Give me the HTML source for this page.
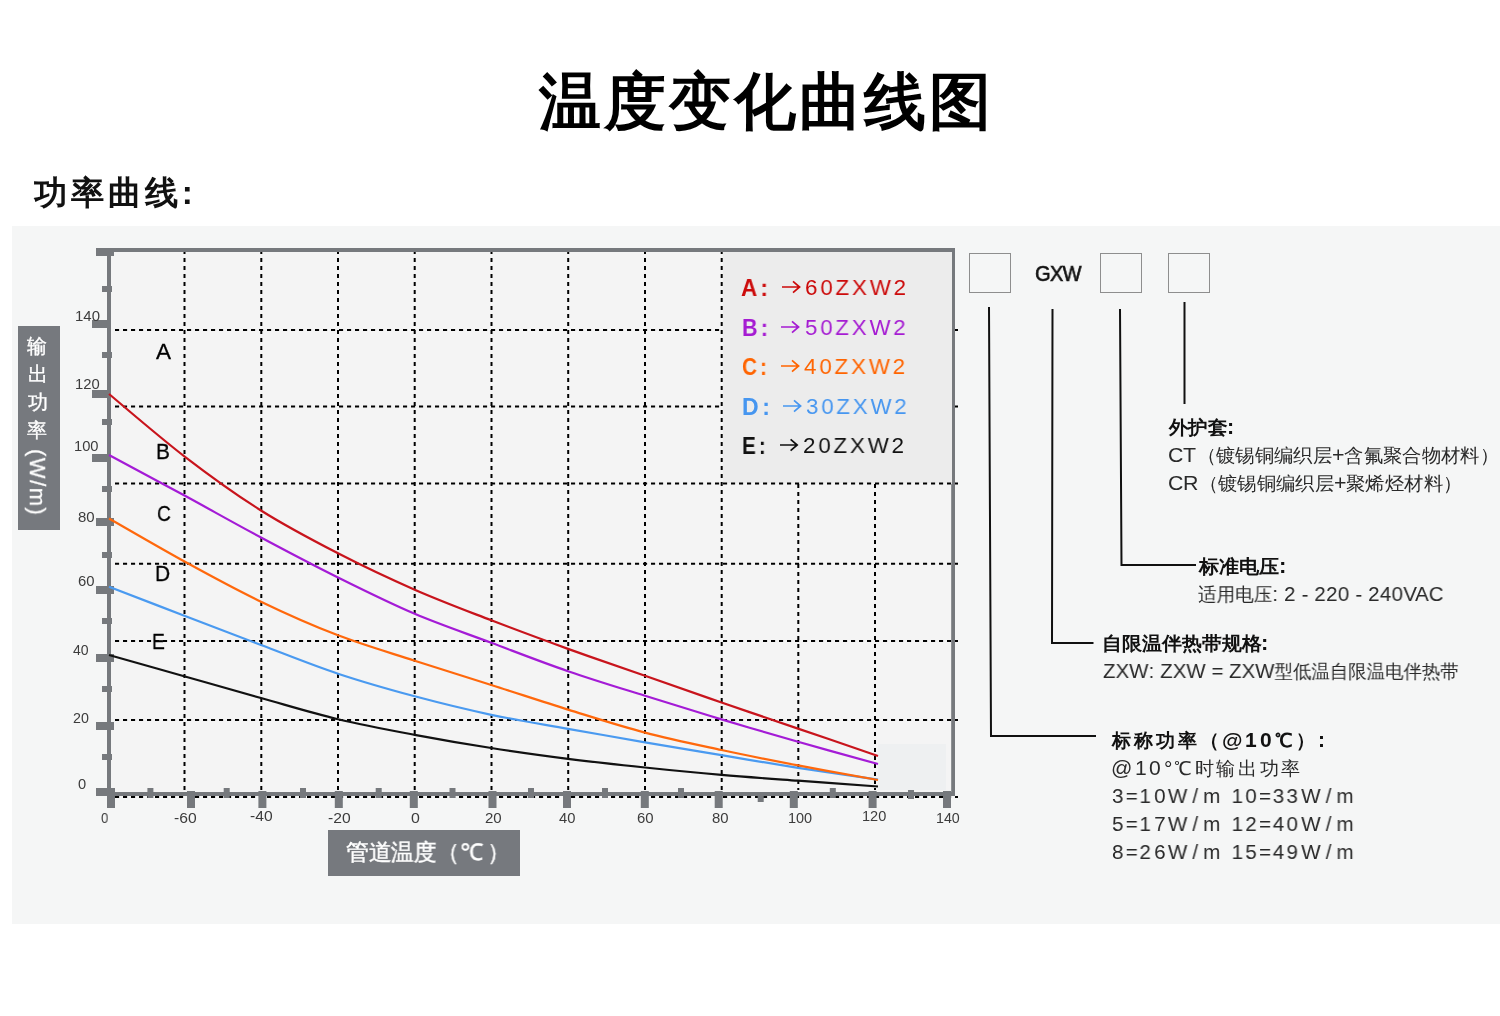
<!DOCTYPE html>
<html><head><meta charset="utf-8">
<style>
@font-face{font-family:"LS2";src:local("Liberation Sans"),local("LiberationSans");size-adjust:108%;unicode-range:U+0020-00FF;}
@font-face{font-family:"LS2";src:local("Liberation Sans Bold"),local("LiberationSans-Bold");font-weight:bold;size-adjust:108%;unicode-range:U+0020-00FF;}
html,body{margin:0;padding:0;}
body{width:1500px;height:1016px;background:#fff;position:relative;overflow:hidden;font-family:"Liberation Sans",sans-serif;}
.a{position:absolute;white-space:nowrap;line-height:1;transform-origin:0 0;will-change:transform;}
#panel{position:absolute;left:12px;top:226px;width:1488px;height:698px;background:#f5f6f6;}
#ybox{position:absolute;left:18px;top:326px;width:42px;height:204px;background:#76797e;}
#xbox{position:absolute;left:328px;top:830px;width:192px;height:46px;background:#76797e;}
#yrot{position:absolute;white-space:nowrap;line-height:1;left:47.5px;top:448.5px;font-size:22.5px;color:#fff;letter-spacing:1.6px;transform:rotate(90deg) scale(0.975,1);transform-origin:0 0;will-change:transform;-webkit-text-stroke:0.3px #fff;}
</style></head><body>
<div id="panel"></div>
<svg width="1500" height="1016" viewBox="0 0 1500 1016" style="position:absolute;left:0;top:0">
<rect x="109" y="250" width="844" height="544" fill="#f4f4f4"/>
<rect x="723" y="251" width="229" height="232" fill="#ececec"/>
<rect x="878" y="744" width="68" height="46" fill="#eef0f1"/>
<line x1="184.5" y1="250" x2="184.5" y2="790" stroke="#000" stroke-width="2" stroke-dasharray="4.1 3.9"/>
<line x1="261.3" y1="250" x2="261.3" y2="790" stroke="#000" stroke-width="2" stroke-dasharray="4.1 3.9"/>
<line x1="338" y1="250" x2="338" y2="790" stroke="#000" stroke-width="2" stroke-dasharray="4.1 3.9"/>
<line x1="414.7" y1="250" x2="414.7" y2="790" stroke="#000" stroke-width="2" stroke-dasharray="4.1 3.9"/>
<line x1="491.5" y1="250" x2="491.5" y2="790" stroke="#000" stroke-width="2" stroke-dasharray="4.1 3.9"/>
<line x1="568.2" y1="250" x2="568.2" y2="790" stroke="#000" stroke-width="2" stroke-dasharray="4.1 3.9"/>
<line x1="645" y1="250" x2="645" y2="790" stroke="#000" stroke-width="2" stroke-dasharray="4.1 3.9"/>
<line x1="721.7" y1="250" x2="721.7" y2="790" stroke="#000" stroke-width="2" stroke-dasharray="4.1 3.9"/>
<line x1="798.3" y1="484" x2="798.3" y2="790" stroke="#000" stroke-width="2" stroke-dasharray="4.1 3.9"/>
<line x1="875" y1="484" x2="875" y2="790" stroke="#000" stroke-width="2" stroke-dasharray="4.1 3.9"/>
<line x1="115" y1="330" x2="723" y2="330" stroke="#000" stroke-width="2" stroke-dasharray="4.1 3.9"/>
<line x1="955" y1="330" x2="958" y2="330" stroke="#000" stroke-width="2"/>
<line x1="115" y1="406.5" x2="723" y2="406.5" stroke="#000" stroke-width="2" stroke-dasharray="4.1 3.9"/>
<line x1="955" y1="406.5" x2="958" y2="406.5" stroke="#000" stroke-width="2"/>
<line x1="115" y1="483.5" x2="958" y2="483.5" stroke="#000" stroke-width="2" stroke-dasharray="4.1 3.9"/>
<line x1="115" y1="563.8" x2="958" y2="563.8" stroke="#000" stroke-width="2" stroke-dasharray="4.1 3.9"/>
<line x1="115" y1="641" x2="958" y2="641" stroke="#000" stroke-width="2" stroke-dasharray="4.1 3.9"/>
<line x1="115" y1="720" x2="958" y2="720" stroke="#000" stroke-width="2" stroke-dasharray="4.1 3.9"/>
<line x1="115" y1="796.9" x2="958" y2="796.9" stroke="#000" stroke-width="2" stroke-dasharray="4.1 3.9"/>
<rect x="96" y="248" width="859" height="4" fill="#76797d"/>
<rect x="96" y="248" width="18" height="8" fill="#76797d"/>
<rect x="107" y="248" width="4" height="548" fill="#76797d"/>
<rect x="952" y="248" width="3" height="236" fill="#76797d"/>
<rect x="951.2" y="484" width="3.8" height="312" fill="#76797d"/>
<rect x="96" y="792" width="859" height="4" fill="#76797d"/>
<rect x="96" y="788" width="18" height="8" fill="#76797d"/>
<rect x="96" y="722" width="18" height="8" fill="#76797d"/>
<rect x="96" y="654" width="18" height="8" fill="#76797d"/>
<rect x="96" y="586" width="18" height="8" fill="#76797d"/>
<rect x="96" y="518" width="18" height="8" fill="#76797d"/>
<rect x="92" y="454" width="19" height="8" fill="#76797d"/>
<rect x="92" y="390" width="19" height="8" fill="#76797d"/>
<rect x="92" y="320" width="19" height="8" fill="#76797d"/>
<rect x="102" y="754" width="10" height="6" fill="#76797d"/>
<rect x="102" y="686" width="10" height="6" fill="#76797d"/>
<rect x="102" y="618" width="10" height="6" fill="#76797d"/>
<rect x="102" y="552" width="10" height="6" fill="#76797d"/>
<rect x="102" y="486" width="10" height="6" fill="#76797d"/>
<rect x="102" y="419" width="10" height="6" fill="#76797d"/>
<rect x="102" y="352" width="10" height="6" fill="#76797d"/>
<rect x="102" y="286" width="10" height="6" fill="#76797d"/>
<rect x="107" y="788" width="8" height="20" fill="#76797d"/>
<rect x="187" y="791" width="8" height="17" fill="#76797d"/>
<rect x="258.4" y="791" width="8" height="17" fill="#76797d"/>
<rect x="334.8" y="791" width="8" height="17" fill="#76797d"/>
<rect x="409.8" y="791" width="8" height="17" fill="#76797d"/>
<rect x="488.5" y="791" width="8" height="17" fill="#76797d"/>
<rect x="563" y="791" width="8" height="17" fill="#76797d"/>
<rect x="640.8" y="791" width="8" height="17" fill="#76797d"/>
<rect x="714.7" y="791" width="8" height="17" fill="#76797d"/>
<rect x="789.8" y="791" width="8" height="17" fill="#76797d"/>
<rect x="868.6" y="791" width="8" height="17" fill="#76797d"/>
<rect x="943" y="791" width="8" height="17" fill="#76797d"/>
<rect x="147.4" y="788" width="6" height="10" fill="#76797d"/>
<rect x="223.7" y="788" width="6" height="10" fill="#76797d"/>
<rect x="300" y="788" width="6" height="10" fill="#76797d"/>
<rect x="375.7" y="788" width="6" height="10" fill="#76797d"/>
<rect x="449.5" y="788" width="6" height="10" fill="#76797d"/>
<rect x="528" y="788" width="6" height="10" fill="#76797d"/>
<rect x="602" y="788" width="6" height="10" fill="#76797d"/>
<rect x="678" y="788" width="6" height="10" fill="#76797d"/>
<rect x="829.8" y="788" width="6" height="10" fill="#76797d"/>
<rect x="757.7" y="794" width="6" height="8" fill="#76797d"/>
<rect x="908" y="790" width="6" height="9" fill="#76797d"/>
<path d="M109.0,394.0 C121.7,404.5 159.7,437.4 185.0,456.8 C210.3,476.2 235.5,494.4 261.0,510.5 C286.5,526.6 312.4,540.1 338.0,553.3 C363.6,566.5 389.1,578.5 414.7,589.7 C440.2,600.9 465.8,610.4 491.3,620.3 C516.9,630.2 542.4,639.6 568.0,648.9 C593.6,658.1 619.4,666.9 645.0,675.8 C670.6,684.7 696.0,693.7 721.5,702.5 C747.0,711.3 771.9,719.7 798.0,728.6 C824.1,737.5 864.7,751.4 878.0,756.0" fill="none" stroke="#c8141c" stroke-width="2.2"/>
<path d="M109.0,455.0 C121.7,461.8 159.7,482.1 185.0,495.8 C210.3,509.6 235.5,523.9 261.0,537.5 C286.5,551.1 312.4,564.8 338.0,577.5 C363.6,590.2 389.1,602.9 414.7,613.8 C440.2,624.7 465.8,633.2 491.3,642.8 C516.9,652.4 542.4,662.4 568.0,671.2 C593.6,680.0 619.4,687.8 645.0,695.8 C670.6,703.8 696.0,711.7 721.5,719.4 C747.0,727.1 771.9,734.4 798.0,741.8 C824.1,749.2 864.7,760.3 878.0,764.0" fill="none" stroke="#a41bd6" stroke-width="2.2"/>
<path d="M109.0,586.7 C121.7,591.6 159.7,606.3 185.0,616.0 C210.3,625.7 235.5,635.4 261.0,645.0 C286.5,654.6 312.4,665.2 338.0,673.7 C363.6,682.2 389.1,689.4 414.7,696.3 C440.2,703.1 465.8,709.4 491.3,714.8 C516.9,720.2 542.4,724.2 568.0,728.8 C593.6,733.4 619.4,737.9 645.0,742.3 C670.6,746.7 696.0,751.0 721.5,755.2 C747.0,759.5 771.9,763.7 798.0,767.8 C824.1,771.9 864.7,777.6 878.0,779.6" fill="none" stroke="#4a9af0" stroke-width="2.2"/>
<path d="M109.0,518.5 C121.7,525.7 159.7,547.9 185.0,561.8 C210.3,575.7 235.5,589.5 261.0,601.7 C286.5,614.0 312.4,625.5 338.0,635.3 C363.6,645.1 389.1,652.4 414.7,660.7 C440.2,669.0 465.8,676.9 491.3,685.0 C516.9,693.1 542.4,701.7 568.0,709.6 C593.6,717.5 619.4,725.9 645.0,732.6 C670.6,739.3 696.0,744.5 721.5,750.0 C747.0,755.5 771.9,760.4 798.0,765.4 C824.1,770.4 864.7,777.6 878.0,780.0" fill="none" stroke="#ff680c" stroke-width="2.2"/>
<path d="M109.0,655.0 C121.7,658.6 159.7,669.3 185.0,676.5 C210.3,683.7 235.5,690.9 261.0,698.0 C286.5,705.1 312.4,713.1 338.0,719.2 C363.6,725.3 389.1,730.0 414.7,734.8 C440.2,739.6 465.8,744.0 491.3,748.0 C516.9,752.0 542.4,755.5 568.0,758.8 C593.6,762.0 619.4,764.8 645.0,767.5 C670.6,770.2 696.0,772.7 721.5,774.9 C747.0,777.1 771.9,778.8 798.0,780.7 C824.1,782.6 864.7,785.5 878.0,786.5" fill="none" stroke="#111111" stroke-width="2.2"/>
<rect x="969.5" y="253.5" width="41" height="39" fill="none" stroke="#8e8e8e" stroke-width="1"/>
<rect x="1100.5" y="253.5" width="41" height="39" fill="none" stroke="#8e8e8e" stroke-width="1"/>
<rect x="1168.5" y="253.5" width="41" height="39" fill="none" stroke="#8e8e8e" stroke-width="1"/>
<polyline points="989,307 991,736 1096,736" fill="none" stroke="#111" stroke-width="2"/>
<polyline points="1052.5,309 1052,643 1093.5,643" fill="none" stroke="#111" stroke-width="2"/>
<polyline points="1120,309 1121.5,565 1196,565" fill="none" stroke="#111" stroke-width="2"/>
<line x1="1184.5" y1="302" x2="1184.5" y2="404" stroke="#111" stroke-width="2"/>
</svg>
<div id="ybox"></div>
<div id="xbox"></div>
<div id="yrot">(W/m)</div>
<div class="a" style="left:538.85px;top:70.55px;font-size:62px;font-weight:bold;letter-spacing:3px;color:#000;transform:scale(1.0009,1.0000)">温度变化曲线图</div>
<div class="a" style="left:34.41px;top:175.95px;font-size:33px;font-weight:bold;letter-spacing:3.6px;color:#111;transform:scale(1.0091,1.0000)">功率曲线:</div>
<div class="a" style="left:74.59px;top:309.15px;font-size:14px;color:#3c3c3c;transform:scale(1.0684,1.0000)">140</div>
<div class="a" style="left:74.61px;top:376.75px;font-size:14px;color:#3c3c3c;transform:scale(1.0567,1.0000)">120</div>
<div class="a" style="left:74.46px;top:439.20px;font-size:14px;color:#3c3c3c;transform:scale(1.0514,1.0000)">100</div>
<div class="a" style="left:78.29px;top:509.75px;font-size:14px;color:#3c3c3c;transform:scale(1.0696,1.0000)">80</div>
<div class="a" style="left:78.20px;top:573.70px;font-size:14px;color:#3c3c3c;transform:scale(1.0613,1.0000)">60</div>
<div class="a" style="left:73.05px;top:643.25px;font-size:14px;color:#3c3c3c;transform:scale(1.0027,1.0000)">40</div>
<div class="a" style="left:72.68px;top:711.20px;font-size:14px;color:#3c3c3c;transform:scale(1.0196,1.0000)">20</div>
<div class="a" style="left:77.78px;top:777.25px;font-size:14px;color:#3c3c3c;transform:scale(1.0488,1.0000)">0</div>
<div class="a" style="left:101.02px;top:811.25px;font-size:14px;color:#3c3c3c;transform:scale(0.9319,1.0000)">0</div>
<div class="a" style="left:173.99px;top:811.05px;font-size:14px;color:#3c3c3c;transform:scale(1.1180,1.0000)">-60</div>
<div class="a" style="left:249.69px;top:809.05px;font-size:14px;color:#3c3c3c;transform:scale(1.1180,1.0000)">-40</div>
<div class="a" style="left:327.69px;top:811.02px;font-size:14px;color:#3c3c3c;transform:scale(1.1180,1.0000)">-20</div>
<div class="a" style="left:411.43px;top:810.95px;font-size:14px;color:#3c3c3c;transform:scale(1.1369,1.0000)">0</div>
<div class="a" style="left:484.65px;top:810.93px;font-size:14px;color:#3c3c3c;transform:scale(1.0731,1.0000)">20</div>
<div class="a" style="left:558.94px;top:810.88px;font-size:14px;color:#3c3c3c;transform:scale(1.0530,1.0000)">40</div>
<div class="a" style="left:636.60px;top:810.85px;font-size:14px;color:#3c3c3c;transform:scale(1.0678,1.0000)">60</div>
<div class="a" style="left:712.49px;top:810.85px;font-size:14px;color:#3c3c3c;transform:scale(1.0623,1.0000)">80</div>
<div class="a" style="left:787.89px;top:810.81px;font-size:14px;color:#3c3c3c;transform:scale(1.0338,1.0000)">100</div>
<div class="a" style="left:861.68px;top:809.06px;font-size:14px;color:#3c3c3c;transform:scale(1.0391,1.0000)">120</div>
<div class="a" style="left:936.00px;top:811.05px;font-size:14px;color:#3c3c3c;transform:scale(1.0184,1.0000)">140</div>
<div class="a" style="left:155.73px;top:341.10px;font-size:22.5px;-webkit-text-stroke:0.3px #000;color:#000;transform:scale(0.9962,1.0000)">A</div>
<div class="a" style="left:156.06px;top:441.00px;font-size:22.5px;-webkit-text-stroke:0.3px #000;color:#000;transform:scale(0.9258,1.0000)">B</div>
<div class="a" style="left:156.65px;top:502.75px;font-size:22.5px;-webkit-text-stroke:0.3px #000;color:#000;transform:scale(0.8500,1.0000)">C</div>
<div class="a" style="left:155.14px;top:562.65px;font-size:22.5px;-webkit-text-stroke:0.3px #000;color:#000;transform:scale(0.9317,1.0000)">D</div>
<div class="a" style="left:151.55px;top:630.85px;font-size:22.5px;-webkit-text-stroke:0.3px #000;color:#000;transform:scale(0.8500,1.0000)">E</div>
<div class="a" style="left:741.25px;top:277.00px;font-size:23px;font-weight:bold;letter-spacing:3.5px;color:#cc0a0a;transform:scale(0.9735,1.0000)">A:</div>
<div class="a" style="left:805.39px;top:277.00px;font-size:22.5px;letter-spacing:2.9px;color:#cc0a0a;transform:scale(0.9901,1.0000)">60ZXW2</div>
<div class="a" style="left:741.70px;top:316.90px;font-size:23px;font-weight:bold;letter-spacing:3.5px;color:#a51bd2;transform:scale(0.9383,1.0000)">B:</div>
<div class="a" style="left:804.68px;top:316.90px;font-size:22.5px;letter-spacing:2.9px;color:#a51bd2;transform:scale(0.9858,1.0000)">50ZXW2</div>
<div class="a" style="left:741.80px;top:355.86px;font-size:23px;font-weight:bold;letter-spacing:3.5px;color:#ff6400;transform:scale(0.9012,1.0000)">C:</div>
<div class="a" style="left:804.07px;top:355.90px;font-size:22.5px;letter-spacing:2.9px;color:#ff6400;transform:scale(0.9911,1.0000)">40ZXW2</div>
<div class="a" style="left:741.66px;top:395.90px;font-size:23px;font-weight:bold;letter-spacing:3.5px;color:#4696f0;transform:scale(1.0012,1.0000)">D:</div>
<div class="a" style="left:806.48px;top:395.90px;font-size:22.5px;letter-spacing:2.9px;color:#4696f0;transform:scale(0.9861,1.0000)">30ZXW2</div>
<div class="a" style="left:741.73px;top:435.00px;font-size:23px;font-weight:bold;letter-spacing:3.5px;color:#111111;transform:scale(0.8972,1.0000)">E:</div>
<div class="a" style="left:802.86px;top:435.00px;font-size:22.5px;letter-spacing:2.9px;color:#111111;transform:scale(0.9895,1.0000)">20ZXW2</div>
<div class="a" style="left:1035.38px;top:264.01px;font-size:21.5px;letter-spacing:-0.8px;-webkit-text-stroke:0.6px #111;color:#111;transform:scale(0.9340,1.0000)">GXW</div>
<div class="a" style="left:1168.66px;top:417.23px;font-family:'LS2','Liberation Sans',sans-serif;font-size:19.3px;font-weight:bold;color:#111;transform:scale(1.0238,1.0000)">外护套:</div>
<div class="a" style="left:1168.15px;top:445.21px;font-family:'LS2','Liberation Sans',sans-serif;font-size:19.3px;color:#2a2a2a;transform:scale(1.0189,1.0000)">CT（镀锡铜编织层+含氟聚合物材料）</div>
<div class="a" style="left:1168.15px;top:473.10px;font-family:'LS2','Liberation Sans',sans-serif;font-size:19.3px;color:#2a2a2a;transform:scale(1.0180,1.0000)">CR（镀锡铜编织层+聚烯烃材料）</div>
<div class="a" style="left:1198.71px;top:555.78px;font-family:'LS2','Liberation Sans',sans-serif;font-size:19.3px;font-weight:bold;color:#111;transform:scale(1.0567,1.0000)">标准电压:</div>
<div class="a" style="left:1198.46px;top:583.66px;font-family:'LS2','Liberation Sans',sans-serif;font-size:19.3px;color:#2a2a2a;transform:scale(0.9776,1.0000)">适用电压: 2 - 220 - 240VAC</div>
<div class="a" style="left:1102.36px;top:633.10px;font-family:'LS2','Liberation Sans',sans-serif;font-size:19.3px;font-weight:bold;color:#111;transform:scale(1.0489,1.0000)">自限温伴热带规格:</div>
<div class="a" style="left:1102.52px;top:661.21px;font-family:'LS2','Liberation Sans',sans-serif;font-size:19.3px;color:#2a2a2a;transform:scale(0.9694,1.0000)">ZXW: ZXW = ZXW型低温自限温电伴热带</div>
<div class="a" style="left:1112.39px;top:729.58px;font-family:'LS2','Liberation Sans',sans-serif;font-size:19.3px;font-weight:bold;letter-spacing:3px;color:#111;transform:scale(1.0004,1.0000)">标称功率（@10℃）:</div>
<div class="a" style="left:1111.18px;top:757.64px;font-family:'LS2','Liberation Sans',sans-serif;font-size:19.3px;letter-spacing:2.5px;color:#2a2a2a;transform:scale(1.0036,1.0000)">@10°℃时输出功率</div>
<div class="a" style="left:1111.96px;top:786.46px;font-family:'LS2','Liberation Sans',sans-serif;font-size:19.3px;letter-spacing:2.2px;color:#2a2a2a;transform:scale(0.9801,1.0000)">3=10W<span style="margin:0 3px">/</span>m 10=33W<span style="margin:0 3px">/</span>m</div>
<div class="a" style="left:1111.93px;top:814.41px;font-family:'LS2','Liberation Sans',sans-serif;font-size:19.3px;letter-spacing:2.2px;color:#2a2a2a;transform:scale(0.9803,1.0000)">5=17W<span style="margin:0 3px">/</span>m 12=40W<span style="margin:0 3px">/</span>m</div>
<div class="a" style="left:1111.89px;top:842.42px;font-family:'LS2','Liberation Sans',sans-serif;font-size:19.3px;letter-spacing:2.2px;color:#2a2a2a;transform:scale(0.9803,1.0000)">8=26W<span style="margin:0 3px">/</span>m 15=49W<span style="margin:0 3px">/</span>m</div>
<div class="a" style="left:345.94px;top:841.49px;font-size:23px;letter-spacing:-0.3px;-webkit-text-stroke:0.45px #fff;color:#fff;transform:scale(0.9953,1.0000)">管道温度（<span style="margin-left:1px">℃</span><span style="margin-left:5px">）</span></div>
<div class="a" style="left:27.39px;top:336.64px;font-size:19.5px;-webkit-text-stroke:0.35px #fff;color:#fff">输</div>
<div class="a" style="left:27.95px;top:365.04px;font-size:19.5px;-webkit-text-stroke:0.35px #fff;color:#fff">出</div>
<div class="a" style="left:27.72px;top:392.62px;font-size:19.5px;-webkit-text-stroke:0.35px #fff;color:#fff">功</div>
<div class="a" style="left:27.23px;top:420.61px;font-size:19.5px;-webkit-text-stroke:0.35px #fff;color:#fff">率</div>
<svg width="20.0" height="14" style="position:absolute;left:782.0px;top:280.2px" viewBox="0 0 20.0 14"><path d="M0,7 H17.6 M11.0,1.4 L17.6,7 L11.0,12.6" fill="none" stroke="#cc0a0a" stroke-width="1.7"/></svg>
<svg width="20.0" height="14" style="position:absolute;left:781.2px;top:320.1px" viewBox="0 0 20.0 14"><path d="M0,7 H17.6 M11.0,1.4 L17.6,7 L11.0,12.6" fill="none" stroke="#a51bd2" stroke-width="1.7"/></svg>
<svg width="20.0" height="14" style="position:absolute;left:780.6px;top:359.1px" viewBox="0 0 20.0 14"><path d="M0,7 H17.6 M11.0,1.4 L17.6,7 L11.0,12.6" fill="none" stroke="#ff6400" stroke-width="1.7"/></svg>
<svg width="20.0" height="14" style="position:absolute;left:783.0px;top:399.1px" viewBox="0 0 20.0 14"><path d="M0,7 H17.6 M11.0,1.4 L17.6,7 L11.0,12.6" fill="none" stroke="#4696f0" stroke-width="1.7"/></svg>
<svg width="19.6" height="14" style="position:absolute;left:780.0px;top:438.2px" viewBox="0 0 19.6 14"><path d="M0,7 H17.2 M10.6,1.4 L17.2,7 L10.6,12.6" fill="none" stroke="#111111" stroke-width="1.7"/></svg>

</body></html>
